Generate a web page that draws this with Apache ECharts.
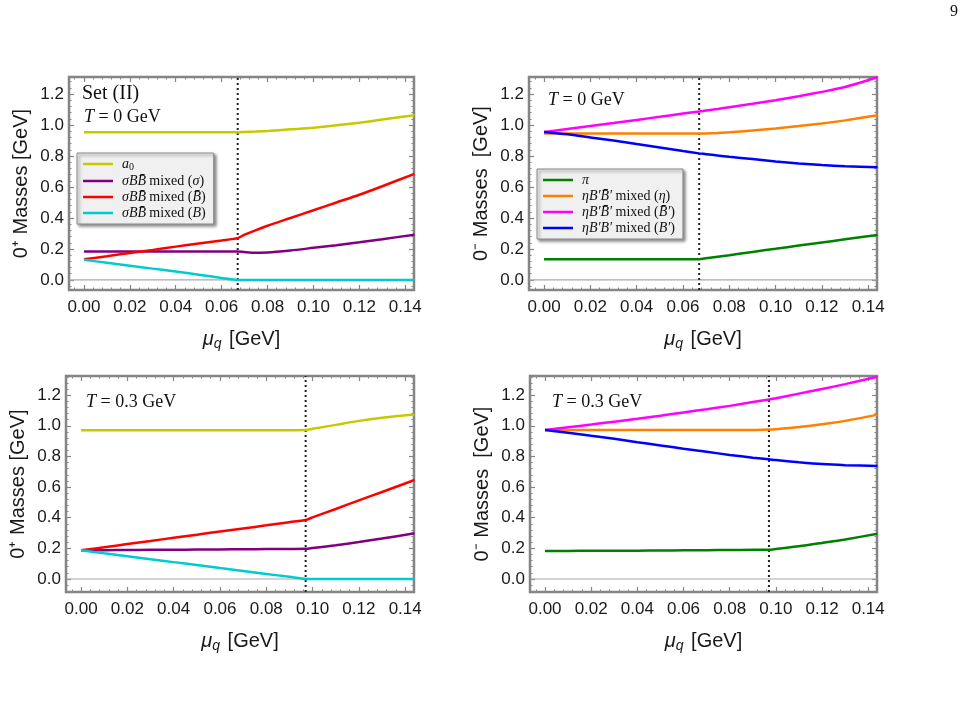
<!DOCTYPE html>
<html>
<head>
<meta charset="utf-8">
<script src="https://cdn.jsdelivr.net/npm/echarts@6/dist/echarts.min.js"></script>
<style>
  html, body { margin: 0; padding: 0; background: #fff; }
  #chart { width: 969px; height: 706px; }
</style>
</head>
<body>
<div id="chart"></div>
<script>
// chemical potential grid (GeV), T = 0 and T = 0.3 GeV
const xT0 = [0, 0.01, 0.02, 0.03, 0.04, 0.05, 0.06, 0.067, 0.07, 0.075, 0.08, 0.09, 0.10, 0.11, 0.12, 0.13, 0.144]
const xT3 = [0, 0.01, 0.02, 0.03, 0.04, 0.05, 0.06, 0.07, 0.08, 0.09, 0.097, 0.10, 0.11, 0.12, 0.13, 0.144]

// 0+ channel, T = 0
const a0T0 = [0.953, 0.953, 0.953, 0.953, 0.953, 0.953, 0.953, 0.953, 0.955, 0.958, 0.962, 0.972, 0.982, 0.998, 1.015, 1.035, 1.063]
const sigmaT0 = [0.184, 0.184, 0.184, 0.184, 0.184, 0.184, 0.184, 0.184, 0.18, 0.176, 0.177, 0.19, 0.207, 0.224, 0.243, 0.263, 0.292]
const bbarT0 = [0.133, 0.153, 0.174, 0.194, 0.215, 0.235, 0.255, 0.27, 0.292, 0.322, 0.35, 0.40, 0.45, 0.50, 0.55, 0.605, 0.685]
const bT0 = [0.13, 0.111, 0.092, 0.073, 0.054, 0.034, 0.013, 0, 0, 0, 0, 0, 0, 0, 0, 0, 0]

// 0- channel, T = 0
const piT0 = [0.134, 0.134, 0.134, 0.134, 0.134, 0.134, 0.134, 0.134, 0.14, 0.15, 0.16, 0.181, 0.201, 0.222, 0.242, 0.262, 0.29]
const etaT0 = [0.945, 0.945, 0.945, 0.945, 0.945, 0.945, 0.945, 0.945, 0.946, 0.949, 0.953, 0.964, 0.978, 0.993, 1.01, 1.03, 1.063]
const bpbarT0 = [0.955, 0.974, 0.994, 1.013, 1.033, 1.053, 1.074, 1.088, 1.094, 1.104, 1.115, 1.137, 1.16, 1.186, 1.214, 1.245, 1.308]
const bpT0 = [0.955, 0.94, 0.92, 0.90, 0.877, 0.855, 0.832, 0.817, 0.812, 0.803, 0.795, 0.78, 0.765, 0.752, 0.742, 0.734, 0.727]

// 0+ channel, T = 0.3 GeV
const a0T3 = [0.971, 0.971, 0.971, 0.971, 0.971, 0.971, 0.971, 0.971, 0.971, 0.971, 0.972, 0.98, 1.006, 1.032, 1.052, 1.073]
const sigmaT3 = [0.187, 0.188, 0.189, 0.19, 0.191, 0.192, 0.193, 0.194, 0.195, 0.196, 0.197, 0.202, 0.22, 0.241, 0.264, 0.298]
const bbarT3 = [0.187, 0.207, 0.228, 0.248, 0.269, 0.289, 0.31, 0.33, 0.35, 0.371, 0.385, 0.402, 0.457, 0.513, 0.568, 0.646]
const bT3 = [0.187, 0.168, 0.149, 0.129, 0.11, 0.091, 0.071, 0.052, 0.033, 0.014, 0, 0, 0, 0, 0, 0]

// 0- channel, T = 0.3 GeV
const piT3 = [0.183, 0.183, 0.184, 0.184, 0.185, 0.186, 0.187, 0.188, 0.189, 0.19, 0.19, 0.195, 0.213, 0.235, 0.258, 0.295]
const etaT3 = [0.972, 0.972, 0.972, 0.972, 0.972, 0.972, 0.972, 0.972, 0.972, 0.972, 0.975, 0.978, 0.992, 1.01, 1.032, 1.073]
const bpbarT3 = [0.972, 0.99, 1.008, 1.027, 1.046, 1.066, 1.087, 1.108, 1.13, 1.155, 1.172, 1.18, 1.21, 1.24, 1.272, 1.32]
const bpT3 = [0.972, 0.955, 0.935, 0.915, 0.893, 0.872, 0.85, 0.83, 0.81, 0.792, 0.781, 0.776, 0.762, 0.75, 0.743, 0.737]

// critical chemical potential per panel (dotted line)
const muCrit = [0.067, 0.067, 0.097, 0.097]

// tick labels
const xTicks = [0, 0.02, 0.04, 0.06, 0.08, 0.10, 0.12, 0.14]
const yTicks = [0, 0.2, 0.4, 0.6, 0.8, 1.0, 1.2]

const SERIF = 'Liberation Serif, DejaVu Serif, serif'
const SANS = 'Liberation Sans, Arial, sans-serif'
const FRAME = '#858585'

const panels = [
  { left: 69, top: 77, width: 345, height: 213, ymin: -0.065, ymax: 1.31, yName: '0⁺ Masses [GeV]' },
  { left: 529, top: 77, width: 348, height: 213, ymin: -0.065, ymax: 1.31, yName: '0⁻ Masses  [GeV]' },
  { left: 66, top: 376, width: 348, height: 216, ymin: -0.085, ymax: 1.325, yName: '0⁺ Masses [GeV]' },
  { left: 530, top: 376, width: 347, height: 216, ymin: -0.085, ymax: 1.325, yName: '0⁻ Masses  [GeV]' }
]
const XMIN = -0.0065
const XMAX = 0.1438

const names = {
  a0: 'a0', sig: 'σBB̄ mixed (σ)', bbar: 'σBB̄ mixed (B̄)', b: 'σBB̄ mixed (B)',
  pi: 'π', eta: 'ηB′B̄′ mixed (η)', bpbar: 'ηB′B̄′ mixed (B̄′)', bp: 'ηB′B′ mixed (B′)'
}
const legendRich = {
  'a0': '{i|a}{s|0}',
  'σBB̄ mixed (σ)': '{i|σBB̄} {r|mixed (}{i|σ}{r|)}',
  'σBB̄ mixed (B̄)': '{i|σBB̄} {r|mixed (}{i|B̄}{r|)}',
  'σBB̄ mixed (B)': '{i|σBB̄} {r|mixed (}{i|B}{r|)}',
  'π': '{i|π}',
  'ηB′B̄′ mixed (η)': '{i|ηB′B̄′} {r|mixed (}{i|η}{r|)}',
  'ηB′B̄′ mixed (B̄′)': '{i|ηB′B̄′} {r|mixed (}{i|B̄′}{r|)}',
  'ηB′B′ mixed (B′)': '{i|ηB′B′} {r|mixed (}{i|B′}{r|)}'
}

function steps (lo, hi, step) {
  const out = []
  for (let i = Math.ceil(lo / step - 1e-9); i * step <= hi + 1e-9; i++) out.push(+(i * step).toFixed(4))
  return out
}
const xMinor = steps(XMIN, XMAX, 0.004).filter(v => Math.abs(v / 0.02 - Math.round(v / 0.02)) > 1e-6)

const noLine = { show: false, onZero: false }
const xAxis = []
const yAxis = []
const grid = []
panels.forEach((p, g) => {
  grid.push({ left: p.left, top: p.top, width: p.width, height: p.height, show: true,
    borderColor: FRAME, borderWidth: 2.5, backgroundColor: 'transparent' })
  const yMinor = steps(p.ymin, p.ymax, 0.04).filter(v => Math.abs(v / 0.2 - Math.round(v / 0.2)) > 1e-6)
  const base = { gridIndex: g, type: 'value', min: XMIN, max: XMAX, axisLine: noLine, splitLine: { show: false } }
  // main bottom axis with labels
  xAxis.push(Object.assign({}, base, {
    position: 'bottom',
    axisTick: { inside: true, length: 5, customValues: xTicks, lineStyle: { color: FRAME, width: 1.2 } },
    axisLabel: { customValues: xTicks, formatter: v => v.toFixed(2), fontFamily: SANS, fontSize: 17, color: '#1a1a1a', margin: 9 },
    name: '{m|μ}{q|q} [GeV]', nameLocation: 'middle', nameGap: 37,
    nameTextStyle: { fontFamily: SANS, fontSize: 20, color: '#1a1a1a',
      rich: { m: { fontFamily: SANS, fontStyle: 'italic', fontSize: 20, color: '#1a1a1a' },
        q: { fontFamily: SANS, fontStyle: 'italic', fontSize: 14, color: '#1a1a1a', padding: [10, 2, 0, 0] } } }
  }))
  xAxis.push(Object.assign({}, base, { position: 'bottom', axisLabel: { show: false },
    axisTick: { inside: true, length: 2.5, customValues: xMinor, lineStyle: { color: FRAME, width: 1 } } }))
  xAxis.push(Object.assign({}, base, { position: 'top', axisLabel: { show: false },
    axisTick: { inside: true, length: 5, customValues: xTicks, lineStyle: { color: FRAME, width: 1.2 } } }))
  xAxis.push(Object.assign({}, base, { position: 'top', axisLabel: { show: false },
    axisTick: { inside: true, length: 2.5, customValues: xMinor, lineStyle: { color: FRAME, width: 1 } } }))

  const ybase = { gridIndex: g, type: 'value', min: p.ymin, max: p.ymax, axisLine: noLine, splitLine: { show: false } }
  yAxis.push(Object.assign({}, ybase, {
    position: 'left',
    axisTick: { inside: true, length: 5, customValues: yTicks, lineStyle: { color: FRAME, width: 1.2 } },
    axisLabel: { customValues: yTicks, formatter: v => v.toFixed(1), fontFamily: SANS, fontSize: 17, color: '#1a1a1a', margin: 5 },
    name: p.yName, nameLocation: 'middle', nameGap: 38,
    nameTextStyle: { fontFamily: SANS, fontSize: 20, color: '#1a1a1a' }
  }))
  yAxis.push(Object.assign({}, ybase, { position: 'left', axisLabel: { show: false },
    axisTick: { inside: true, length: 2.5, customValues: yMinor, lineStyle: { color: FRAME, width: 1 } } }))
  yAxis.push(Object.assign({}, ybase, { position: 'right', axisLabel: { show: false },
    axisTick: { inside: true, length: 5, customValues: yTicks, lineStyle: { color: FRAME, width: 1.2 } } }))
  yAxis.push(Object.assign({}, ybase, { position: 'right', axisLabel: { show: false },
    axisTick: { inside: true, length: 2.5, customValues: yMinor, lineStyle: { color: FRAME, width: 1 } } }))
})

const lines = [
  [0, names.a0, '#c8c800', xT0, a0T0],
  [0, names.sig, '#800080', xT0, sigmaT0],
  [0, names.bbar, '#ff0000', xT0, bbarT0],
  [0, names.b, '#00cccc', xT0, bT0],
  [1, names.pi, '#008000', xT0, piT0],
  [1, names.eta, '#ff8000', xT0, etaT0],
  [1, names.bpbar, '#ff00ff', xT0, bpbarT0],
  [1, names.bp, '#0000ff', xT0, bpT0],
  [2, names.a0, '#c8c800', xT3, a0T3],
  [2, names.sig, '#800080', xT3, sigmaT3],
  [2, names.bbar, '#ff0000', xT3, bbarT3],
  [2, names.b, '#00cccc', xT3, bT3],
  [3, names.pi, '#008000', xT3, piT3],
  [3, names.eta, '#ff8000', xT3, etaT3],
  [3, names.bpbar, '#ff00ff', xT3, bpbarT3],
  [3, names.bp, '#0000ff', xT3, bpT3]
]

const series = []
panels.forEach((p, g) => {
  // thin grey zero line
  series.push({
    type: 'line', xAxisIndex: g * 4, yAxisIndex: g * 4, symbol: 'none', silent: true, z: 1,
    data: [[XMIN, 0], [XMAX, 0]], lineStyle: { color: '#a8a8a8', width: 1.2 }
  })
  // dotted critical line
  series.push({
    type: 'line', xAxisIndex: g * 4, yAxisIndex: g * 4, symbol: 'none', silent: true, z: 2,
    data: [[muCrit[g], p.ymin], [muCrit[g], p.ymax]], lineStyle: { color: '#222', width: 2, type: [2, 3] }
  })
})
lines.forEach(([g, name, color, xs, ys]) => {
  series.push({
    type: 'line', name, xAxisIndex: g * 4, yAxisIndex: g * 4,
    data: xs.map((x, i) => [x, ys[i]]),
    symbol: 'none', smooth: 0.25, color,
    lineStyle: { color, width: 2.5 }, z: 3
  })
})

const legendBase = {
  orient: 'vertical', icon: 'rect', itemWidth: 30, itemHeight: 2.5, itemGap: 2,
  backgroundColor: '#f0f0f0', borderColor: '#8a8a8a', borderWidth: 1,
  padding: [4, 8, 4, 6],
  shadowColor: 'rgba(0,0,0,0.45)', shadowBlur: 3, shadowOffsetX: 2, shadowOffsetY: 2,
  formatter: n => legendRich[n],
  textStyle: {
    padding: [0, 0, 0, 4],
    rich: {
      i: { fontFamily: SERIF, fontStyle: 'italic', fontSize: 14, color: '#111', lineHeight: 14 },
      r: { fontFamily: SERIF, fontSize: 14, color: '#111', lineHeight: 14 },
      s: { fontFamily: SERIF, fontSize: 10, color: '#111', padding: [6, 0, 0, 0] }
    }
  }
}

const tText = (x, y, txt) => ({
  type: 'text', left: x, top: y,
  style: { text: txt, font: '18px ' + SERIF, fill: '#111',
    rich: { i: { fontFamily: SERIF, fontStyle: 'italic', fontSize: 18 }, r: { fontFamily: SERIF, fontSize: 18 } } }
})

const chart = echarts.init(document.getElementById('chart'), null, { renderer: 'canvas' })
chart.setOption({
  animation: false,
  backgroundColor: '#ffffff',
  grid, xAxis, yAxis, series,
  legend: [
    Object.assign({}, legendBase, { left: 77, top: 153, data: [names.a0, names.sig, names.bbar, names.b] }),
    Object.assign({}, legendBase, { left: 537, top: 169, data: [names.pi, names.eta, names.bpbar, names.bp] })
  ],
  graphic: [
    { type: 'text', left: 82, top: 84, style: { text: 'Set (II)', font: '20px ' + SERIF, fill: '#111' } },
    tText(84, 108, '{i|T} {r|= 0 GeV}'),
    tText(548, 91, '{i|T} {r|= 0 GeV}'),
    tText(86, 393, '{i|T} {r|= 0.3 GeV}'),
    tText(552, 393, '{i|T} {r|= 0.3 GeV}'),
    { type: 'text', left: 950, top: 4, style: { text: '9', font: '16px ' + SERIF, fill: '#111' } }
  ]
})
</script>
</body>
</html>
